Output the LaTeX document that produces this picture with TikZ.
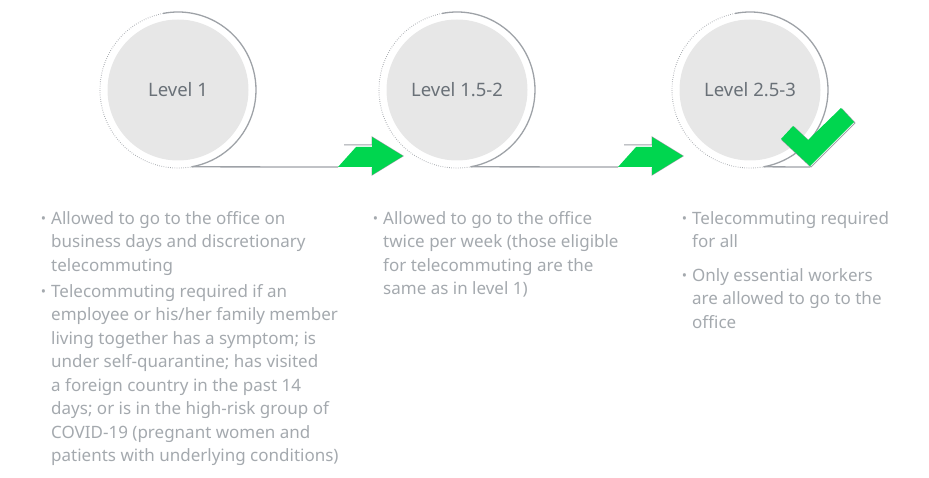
\documentclass[tikz,border=0pt]{standalone}
\usepackage{fontspec}
\setmainfont{Noto Sans}
\usetikzlibrary{positioning}
\definecolor{ringgray}{HTML}{9EA2A7}
\definecolor{discfill}{HTML}{E7E7E7}
\definecolor{leveltext}{HTML}{6A7178}
\definecolor{notetext}{HTML}{A4A9AE}
\definecolor{gogreen}{HTML}{00D64F}
\newcommand{\dotmark}{\llap{\raisebox{1pt}{\fontsize{14}{14}\selectfont •}\hspace{5pt}}}

\begin{document}
\begin{tikzpicture}[x=1pt, y=1pt,
    disc/.style={circle, fill=discfill, minimum size=141pt, inner sep=0pt, text=leveltext, font=\fontsize{18.5}{20}\selectfont},
    note/.style={anchor=north west, inner sep=0pt, align=left, text=notetext, font=\fontsize{17}{23.5}\selectfont},
    ringline/.style={draw=ringgray, line width=1.3pt},
    ringdots/.style={draw=ringgray, line width=0.9pt, dash pattern=on 0.6pt off 1.6pt}]
  \useasboundingbox (0,0) rectangle (929,-478);
  \node[disc] (lv1) at (178,-90) {Level 1};
  \node[disc] (lv2) at (457,-90) {Level 1.5-2};
  \node[disc] (lv3) at (750,-90) {Level 2.5-3};
  % rings round the discs
  \foreach \c in {lv1,lv2,lv3} {
    \draw[ringdots] ([shift={(101:78pt)}]\c.center) arc[start angle=101, end angle=280, radius=78pt];
    \draw[ringline] ([shift={(101:78pt)}]\c.center) arc[start angle=101, end angle=-80, radius=78pt] coordinate (\c-foot);
  }
  \coordinate (a1) at (338,-167);
  \coordinate (a2) at (618,-167);
  \coordinate (chk) at (810,-167);
  \draw[ringline] (lv1-foot) -- (a1);
  \draw[ringline] (lv2-foot) -- (a2);
  \draw[ringline] (lv3-foot) -- (chk);
  % green arrows
  \foreach \a in {a1,a2} {
    \draw[ringgray, line width=1pt] ([shift={(6,22)}]\a) -- ++(28,0) -- ++(0,8) -- ++(31,-19) -- ++(-31,-19) -- ++(0,7);
    \fill[gogreen] (\a) -- ++(18,20) -- ++(16,0) -- ++(0,10) -- ++(31,-19) -- ++(-31,-19) -- ++(0,8) -- cycle;
  }
  % check mark
  \draw[ringgray, line width=1pt] (782,-140) -- (794,-127) -- (809,-141) -- (842,-109) -- (855,-123) -- (811,-167) -- cycle;
  \fill[gogreen] (781,-139) -- (793,-126) -- (808,-140) -- (841,-108) -- (854,-122) -- (810,-166) -- cycle;
  % notes
  \node[note] (n1a) at (51,-211) {\dotmark Allowed to go to the office on\\business days and discretionary\\telecommuting};
  \node[note] (n1b) at (51,-284) {\dotmark Telecommuting required if an\\employee or his/her family member\\living together has a symptom; is\\under self-quarantine; has visited\\a foreign country in the past 14\\days; or is in the high-risk group of\\COVID-19 (pregnant women and\\patients with underlying conditions)};
  \node[note] (n2a) at (383,-211) {\dotmark Allowed to go to the office\\twice per week (those eligible\\for telecommuting are the\\same as in level 1)};
  \node[note] (n3a) at (692,-211) {\dotmark Telecommuting required\\for all};
  \node[note] (n3b) at (692,-268) {\dotmark Only essential workers\\are allowed to go to the\\office};
\end{tikzpicture}
\end{document}
